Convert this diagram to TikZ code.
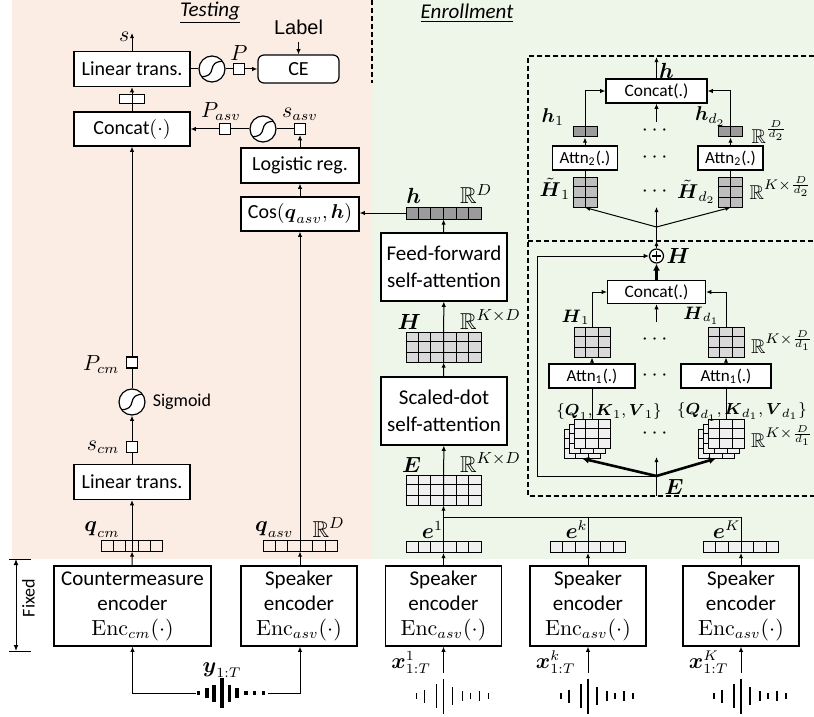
\documentclass[tikz,border=0pt]{standalone}
\usepackage{amsmath}
\usepackage{amssymb}
\usepackage[no-math]{fontspec}
\newfontfamily\cfont{Carlito}
\newfontfamily\afont{Liberation Sans}
\usetikzlibrary{arrows.meta, calc, positioning}
\definecolor{testbg}{RGB}{252,237,228}
\definecolor{enrollbg}{RGB}{238,245,233}
\definecolor{cellA}{RGB}{240,240,240}
\definecolor{cellB}{RGB}{217,217,217}
\definecolor{cellC}{RGB}{190,190,190}
\definecolor{cellD}{RGB}{155,155,155}

% inner lines of a vector / matrix node: node, columns, rows
\newcommand{\gridsplit}[3]{%
  \foreach \i in {1,...,#2}{\ifnum\i<#2
    \draw[line width=0.4pt] ($(#1.south west)!\i/#2!(#1.south east)$) -- ($(#1.north west)!\i/#2!(#1.north east)$);\fi}
  \foreach \j in {1,...,#3}{\ifnum\j<#3
    \draw[line width=0.4pt] ($(#1.south west)!\j/#3!(#1.north west)$) -- ($(#1.south east)!\j/#3!(#1.north east)$);\fi}}

\tikzset{
  >={Latex[length=2.6pt,width=2.2pt]},
  blk/.style={draw, line width=0.6pt, fill=white, inner sep=1pt, align=center,
    font=\cfont\fontsize{10}{12}\selectfont},
  bigblk/.style={blk, minimum width=58pt, minimum height=40pt, font=\cfont\fontsize{10.5}{12.5}\selectfont},
  inblk/.style={blk, minimum height=12pt, font=\cfont\fontsize{8.7}{10}\selectfont},
  sq/.style={draw, fill=white, line width=0.6pt, inner sep=0pt, minimum size=5.5pt},
  sig/.style={circle, draw, fill=white, line width=0.6pt, inner sep=0pt, minimum size=13pt,
    path picture={\draw[line width=0.6pt] ([xshift=-7pt,yshift=-4pt]path picture bounding box.center)
      .. controls +(12pt,0pt) and +(-12pt,0pt) .. ([xshift=7pt,yshift=4pt]path picture bounding box.center);}},
  vecbox/.style={draw, line width=0.5pt, inner sep=0pt},
  lbl/.style={inner sep=1pt, font=\fontsize{10.5}{12}\selectfont},
  lblR/.style={inner sep=1pt, font=\fontsize{11.5}{13}\selectfont},
  lblS/.style={inner sep=1pt, font=\fontsize{10}{12}\selectfont},
  lblT/.style={inner sep=1pt, font=\fontsize{8.5}{10}\selectfont},
  dashbox/.style={dash pattern=on 2.5pt off 1.5pt, line width=0.6pt},
  fat/.style={line width=1.3pt, -{Latex[length=3.5pt,width=3.5pt]}},
}

\begin{document}
\begin{tikzpicture}[x=0.5pt, y=-0.5pt, line width=0.5pt]
\useasboundingbox (0,0) rectangle (814,717);

% backgrounds
\fill[testbg] (12,0) rectangle (372,559);
\fill[enrollbg] (372,0) rectangle (814,559);
\draw[dashbox] (372,0) -- (372,83);
\node[font=\cfont\itshape\fontsize{10.5}{12}\selectfont] (ttest) at (210,13) {\underline{Testing}};
\node[font=\cfont\itshape\fontsize{10.5}{12}\selectfont] (tenrol) at (467,13) {\underline{Enrollment}};

% testing: top rows
\node[blk, minimum width=58pt, minimum height=17.5pt] (linT) at (132,69) {Linear trans.};
\coordinate (sOut) at (132,33);
\node[lbl, left=0pt of sOut, yshift=-2pt] {$s$};
\node[vecbox, fill=white, minimum width=12.5pt, minimum height=4.5pt] (catv) at (132,99.5) {};
\node[blk, minimum width=58pt, minimum height=17pt] (catT) at (132,129) {Concat$(\cdot)$};
\node[sig] (sigT) at (212,69) {};
\node[sq] (sqP) at (239,69) {};
\node[lbl, above=0pt of sqP] {$P$};
\node[blk, rounded corners=3pt, minimum width=40.5pt, minimum height=14pt] (ce) at (298.5,69) {CE};
\node[font=\afont\fontsize{10}{12}\selectfont] (lab) at (298.5,27) {Label};

\node[sq] (sqSasv) at (300,129) {};
\node[lbl, above=0pt of sqSasv] {$s_{asv}$};
\node[sig] (sigA) at (263,129) {};
\node[sq] (sqPasv) at (225,129) {};
\node[lbl, above=0pt of sqPasv, xshift=-2pt] {$P_{asv}$};
\node[blk, minimum width=59pt, minimum height=17.5pt] (logi) at (300,165.5) {Logistic reg.};
\node[blk, minimum width=59pt, minimum height=17pt] (cos) at (300,214) {Cos$(\boldsymbol{q}_{asv},\boldsymbol{h})$};

\draw[->] (linT) -- (sOut);
\draw[->] (catT) -- (linT);
\draw (linT) -- (sigT);
\draw (sigT) -- (sqP);
\draw[->] (sqP) -- (ce);
\draw[->] (lab) -- (ce);
\draw[->] (sqPasv) -- (catT);
\draw (sigA) -- (sqPasv);
\draw (sqSasv) -- (sigA);
\draw[->] (logi) -- (sqSasv);
\draw[->] (cos) -- (logi);

% testing: countermeasure branch
\node[sq] (sqPcm) at (132,362.5) {};
\node[lbl, left=2pt of sqPcm, yshift=-1pt] {$P_{cm}$};
\node[sig] (sigC) at (132,402) {};
\node[right=0pt of sigC, font=\cfont\fontsize{9}{10}\selectfont] {Sigmoid};
\node[sq] (sqScm) at (132,447) {};
\node[lbl, left=2pt of sqScm] {$s_{cm}$};
\node[blk, minimum width=58pt, minimum height=17.5pt] (linB) at (132,482) {Linear trans.};
\node[vecbox, minimum width=30.5pt, minimum height=5.5pt] (qcm) at (132,545.5) {};
\gridsplit{qcm}{5}{1}
\node[lbl, above left=0pt and 5pt of qcm.north] {$\boldsymbol{q}_{cm}$};
\node[bigblk, minimum width=78.5pt] (cmenc) at (132.5,606) {Countermeasure\\encoder\\$\mathrm{Enc}_{cm}(\cdot)$};

\draw[->] (sqPcm) -- (catT);
\draw (sigC) -- (sqPcm);
\draw[->] (sqScm) -- (sigC);
\draw (linB) -- (sqScm);
\draw[->] (qcm.south) -- (linB);
\draw[->] (cmenc) -- (qcm);

% testing: speaker branch
\node[vecbox, minimum width=37pt, minimum height=5.5pt] (qasv) at (300,545.5) {};
\gridsplit{qasv}{6}{1}
\node[lbl, above left=0pt and 2pt of qasv.north] {$\boldsymbol{q}_{asv}$};
\node[lblR, above right=0pt and 5pt of qasv.north] {$\mathbb{R}^{D}$};
\node[bigblk] (spkT) at (299,606) {Speaker\\encoder\\$\mathrm{Enc}_{asv}(\cdot)$};
\draw[->] (spkT.north -| qasv) -- (qasv);
\draw[->] (qasv.south) -- (cos);

% test waveform
\coordinate (wy) at (222,693);
\foreach \dx/\hh in {-23.7/4, -15.3/10, -8.3/17, 0/30, 7.3/17, 14.7/10, 24/4, 32.3/4, 41.3/4}
  \fill ($(wy)+(\dx-1.8,-\hh/2)$) rectangle ($(wy)+(\dx+1.8,\hh/2)$);
\coordinate (wyL) at (196,693);
\coordinate (wyR) at (268,693);
\draw[->] (wyL) -| (cmenc.south);
\draw[->] (wyR) -| (spkT.south -| qasv);
\node[lbl] (ylab) at (222,670) {$\boldsymbol{y}_{1:T}$};

% fixed bracket
\coordinate (fxT) at (16,559);
\coordinate (fxB) at (16,651);
\draw[{Latex[length=3pt,width=2.4pt]}-{Latex[length=3pt,width=2.4pt]}] (fxT) -- (fxB);
\draw (9,559) -- (31,559);
\draw (9,651) -- (31,651);
\node[rotate=90, font=\cfont\fontsize{9}{10}\selectfont] (fixtxt) at (28.5,598) {Fixed};

% enrollment column
\node[vecbox, fill=cellD, minimum width=37.5pt, minimum height=6pt] (hvec) at (443.5,213) {};
\gridsplit{hvec}{6}{1}
\node[lbl, above left=0pt and 10pt of hvec.north] {$\boldsymbol{h}$};
\node[lblR, above right=0pt and 7pt of hvec.north] {$\mathbb{R}^{D}$};
\node[bigblk, minimum width=63pt, minimum height=34pt, font=\cfont\fontsize{10.5}{13.5}\selectfont] (ff) at (444,267) {Feed-forward\\self-attention};
\node[vecbox, fill=cellB, minimum width=37.5pt, minimum height=15pt] (Hmat) at (443.5,347) {};
\gridsplit{Hmat}{6}{3}
\node[lbl, above left=0pt and 10pt of Hmat.north] {$\boldsymbol{H}$};
\node[lblR, above right=0pt and 7pt of Hmat.north] {$\mathbb{R}^{K\times D}$};
\node[bigblk, minimum width=63pt, minimum height=34pt, font=\cfont\fontsize{10.5}{13.5}\selectfont] (sd) at (444,411) {Scaled-dot\\self-attention};
\node[vecbox, fill=cellA, minimum width=37.5pt, minimum height=15pt] (Emat) at (443.5,490) {};
\gridsplit{Emat}{6}{3}
\node[lbl, above left=0pt and 10pt of Emat.north] {$\boldsymbol{E}$};
\node[lblR, above right=0pt and 7pt of Emat.north] {$\mathbb{R}^{K\times D}$};

\draw[->] (hvec.west) -- (hvec.west -| cos.east);
\draw[->] (ff) -- (hvec);
\draw[->] (Hmat.south) -- (ff);
\draw[->] (sd) -- (Hmat);
\draw[->] (Emat.south) -- (sd);

% enrollment encoders
\foreach \xc/\nm/\supx in {443.5/1/1, 588/2/k, 741/3/K} {
  \node[vecbox, fill=cellA, minimum width=37.5pt, minimum height=5.5pt] (ev\nm) at (\xc,547) {};
  \gridsplit{ev\nm}{6}{1}
  \node[lbl, above left=0pt and -1pt of ev\nm.north] {$\boldsymbol{e}^{\supx}$};
  \node[bigblk] (enc\nm) at (\xc,606) {Speaker\\encoder\\$\mathrm{Enc}_{asv}(\cdot)$};
  \draw[->] (enc\nm) -- (ev\nm);
  \coordinate (xs\nm) at (\xc,673);
  \draw[->] (xs\nm) -- (enc\nm);
  \node[lbl, above left=-1.5pt and 5pt of xs\nm] {$\boldsymbol{x}^{\supx}_{1:T}$};
  \coordinate (wx\nm) at (\xc,696);
  \foreach \dx/\hh in {-27/6, -19/13, -7/24, 0/35, 9/18, 19/10, 27/6, 36/10, 45/6}
    \draw[line width=0.9pt] ($(wx\nm)+(\dx,-\hh/2)$) -- ($(wx\nm)+(\dx,\hh/2)$);
}
\coordinate (bus) at (443.5,517);
\draw[->] (ev1.south) -- (Emat);
\draw (ev2.south) |- (bus);
\draw (ev3.south) |- (bus);

% multi-head boxes
\draw[dashbox] (814,56) -- (528,56) -- (528,496) -- (814,496);
\draw[dashbox] (528,241) -- (814,241);

% upper box
\node[inblk, minimum width=50.5pt] (catU) at (656.5,91) {Concat(.)};
\coordinate (hOut) at (656.5,57);
\node[lbl, below right=2pt and 0pt of hOut] {$\boldsymbol{h}$};
\node[vecbox, fill=cellD, minimum width=12pt, minimum height=5pt] (hv1) at (585,132) {};
\node[vecbox, fill=cellD, minimum width=12pt, minimum height=5pt] (hvd) at (730.5,132) {};
\node[lblS, above left=-1pt and 3pt of hv1.north west] {$\boldsymbol{h}_1$};
\node[lblS, above left=-1pt and -5pt of hvd.north west] {$\boldsymbol{h}_{d_2}$};
\node[lblS, right=3pt of hvd] {$\mathbb{R}^{\frac{D}{d_2}}$};
\node[inblk, minimum width=32.5pt, font=\cfont\fontsize{8.5}{10}\selectfont] (at2L) at (585,158) {Attn\textsubscript{2}(.)};
\node[inblk, minimum width=32.5pt, font=\cfont\fontsize{8.5}{10}\selectfont] (at2R) at (730.5,158) {Attn\textsubscript{2}(.)};
\node[vecbox, fill=cellC, minimum width=12pt, minimum height=15pt] (Ht1) at (585,192) {};
\gridsplit{Ht1}{2}{3}
\node[vecbox, fill=cellC, minimum width=12pt, minimum height=15pt] (Htd) at (730.5,192) {};
\gridsplit{Htd}{2}{3}
\node[lblS, left=0pt of Ht1, yshift=1.5pt] {$\tilde{\boldsymbol{H}}_1$};
\node[lblS, left=0pt of Htd] {$\tilde{\boldsymbol{H}}_{d_2}$};
\node[lblS, right=2pt of Htd, yshift=2pt] {$\mathbb{R}^{K\times\frac{D}{d_2}}$};
\node[lbl] (dU1) at (656.5,131) {$\cdots$};
\node[lbl] (dU2) at (656.5,158) {$\cdots$};
\node[lbl] (dU3) at (656.5,192) {$\cdots$};
\coordinate (jU) at (656.5,227);
\coordinate (cUin) at (656.5,122);
\coordinate (cUmid) at (656.5,207);

\draw[->] (catU) -- (hOut);
\draw[->] (hv1.south) |- (catU.west);
\draw[->] (hvd.south) |- (catU.east);
\draw[->] (at2L) -- (hv1);
\draw[->] (at2R) -- (hvd);
\draw (Ht1) -- (at2L);
\draw (Htd) -- (at2R);
\draw[->] (cUin) -- (catU);
\draw[->] (jU) -- (Ht1.south);
\draw[->] (jU) -- (Htd.south);
\draw[->] (jU) -- (cUmid);

% lower box
\node[circle, draw, fill=white, line width=0.6pt, inner sep=0pt, minimum size=7pt,
  path picture={\draw ([xshift=-2.3pt]path picture bounding box.center) -- ([xshift=2.3pt]path picture bounding box.center)
    ([yshift=-2.3pt]path picture bounding box.center) -- ([yshift=2.3pt]path picture bounding box.center);}] (oplus) at (656.5,256) {};
\node[lbl, right=0pt of oplus] {$\boldsymbol{H}$};
\coordinate (hIn) at (656.5,241);
\node[inblk, minimum width=49pt, minimum height=11.5pt] (catL) at (656.5,292) {Concat(.)};
\coordinate (cLin) at (656.5,322);
\node[vecbox, fill=cellB, minimum width=18pt, minimum height=15pt] (H1m) at (592,342) {};
\gridsplit{H1m}{3}{3}
\node[vecbox, fill=cellB, minimum width=18pt, minimum height=15pt] (Hdm) at (726,342) {};
\gridsplit{Hdm}{3}{3}
\node[lblT, font=\fontsize{9}{10}\selectfont, above left=0pt and 0pt of H1m.north] {$\boldsymbol{H}_1$};
\node[lblT, font=\fontsize{9}{10}\selectfont, above left=0pt and 2pt of Hdm.north] {$\boldsymbol{H}_{d_1}$};
\node[lblS, right=2pt of Hdm] {$\mathbb{R}^{K\times\frac{D}{d_1}}$};
\node[inblk, minimum width=43pt, font=\cfont\fontsize{8.5}{10}\selectfont] (at1L) at (592,376) {Attn\textsubscript{1}(.)};
\node[inblk, minimum width=45pt, font=\cfont\fontsize{8.5}{10}\selectfont] (at1R) at (726,376) {Attn\textsubscript{1}(.)};
\foreach \xc/\nm in {592/1, 726/2} {
  \node[vecbox, fill=cellA, minimum width=18pt, minimum height=14.5pt] (qB\nm) at (\xc-10,443.5) {};
  \gridsplit{qB\nm}{3}{3}
  \node[vecbox, fill=cellA, minimum width=18pt, minimum height=14.5pt] (qM\nm) at (\xc-5,438.5) {};
  \gridsplit{qM\nm}{3}{3}
  \node[vecbox, fill=cellA, minimum width=18pt, minimum height=14.5pt] (qF\nm) at (\xc,433.5) {};
  \gridsplit{qF\nm}{3}{3}
}
\node[lblS, right=2pt of qF2, yshift=-1.5pt] {$\mathbb{R}^{K\times\frac{D}{d_1}}$};
\node[lbl] (dL1) at (656.5,340) {$\cdots$};
\node[lbl] (dL2) at (656.5,376) {$\cdots$};
\node[lbl] (dL3) at (656.5,434) {$\cdots$};
\coordinate (jL) at (656.5,476);
\coordinate (skip) at (537,256);
\coordinate (cLmid) at (656.5,457);
\coordinate (eIn) at (656.5,496);

\draw[->] (oplus) -- (hIn);
\draw (hIn) -- (jU);
\draw[fat] (catL) -- (oplus);
\draw[->] (cLin) -- (catL);
\draw[->] (H1m.north) |- (catL.west);
\draw[->] (Hdm.north) |- (catL.east);
\draw[->] (at1L) -- (H1m);
\draw[->] (at1R) -- (Hdm);
\draw (qF1) -- (at1L);
\draw (qF2) -- (at1R);
\node[lblT, font=\fontsize{8}{10}\selectfont] (qkv1) at (609,412) {$\{\boldsymbol{Q}_1,\boldsymbol{K}_1,\boldsymbol{V}_1\}$};
\node[lblT, font=\fontsize{8}{10}\selectfont] (qkv2) at (742,412) {$\{\boldsymbol{Q}_{d_1},\boldsymbol{K}_{d_1},\boldsymbol{V}_{d_1}\}$};
\draw[->] (jL) -| (skip) -- (oplus);
\draw[fat] (jL) -- (qB1.south);
\draw[fat] (jL) -- (qB2.south);
\draw[->] (jL) -- (cLmid);
\draw (eIn) -- (jL);
\node[lbl] (Elab) at (674,487) {$\boldsymbol{E}$};
\end{tikzpicture}
\end{document}
